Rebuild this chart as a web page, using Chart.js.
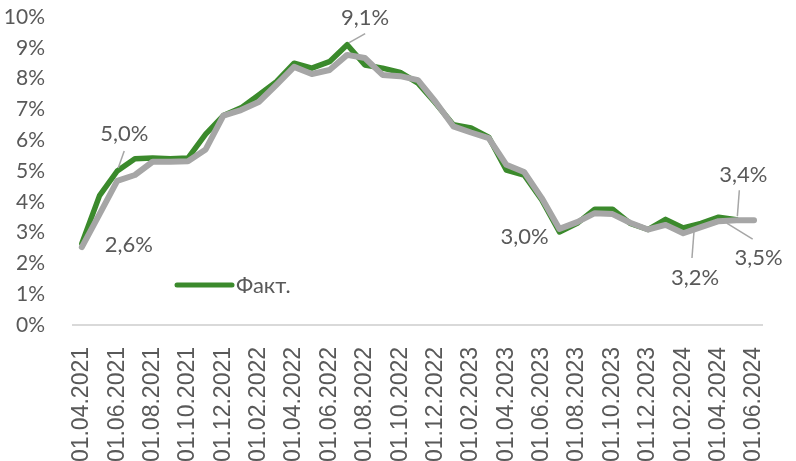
<!DOCTYPE html>
<html>
<head>
<meta charset="utf-8">
<script src="https://cdn.jsdelivr.net/npm/chart.js@4.4.1/dist/chart.umd.min.js"></script>
<style>
  html, body { margin: 0; padding: 0; background: #fff; }
  #wrap { width: 796px; height: 461px; position: relative; }
</style>
</head>
<body>
<div id="wrap"><canvas id="chart"></canvas></div>
<script>
// monthly dates, 01.04.2021 .. 01.06.2024
const months = [
  "01.04.2021", "01.05.2021", "01.06.2021", "01.07.2021", "01.08.2021", "01.09.2021",
  "01.10.2021", "01.11.2021", "01.12.2021", "01.01.2022", "01.02.2022", "01.03.2022",
  "01.04.2022", "01.05.2022", "01.06.2022", "01.07.2022", "01.08.2022", "01.09.2022",
  "01.10.2022", "01.11.2022", "01.12.2022", "01.01.2023", "01.02.2023", "01.03.2023",
  "01.04.2023", "01.05.2023", "01.06.2023", "01.07.2023", "01.08.2023", "01.09.2023",
  "01.10.2023", "01.11.2023", "01.12.2023", "01.01.2024", "01.02.2024", "01.03.2024",
  "01.04.2024", "01.05.2024", "01.06.2024"
];

// Факт. (green)
const fact = [
  2.65, 4.2, 5.0, 5.4, 5.42, 5.4, 5.42, 6.2, 6.8, 7.05, 7.47, 7.9,
  8.5, 8.34, 8.55, 9.1, 8.44, 8.34, 8.2, 7.85, 7.2, 6.5, 6.4, 6.1,
  5.03, 4.87, 4.06, 3.02, 3.3, 3.76, 3.76, 3.3, 3.1, 3.43, 3.15, 3.3,
  3.5, 3.42, null
];

// second series (grey)
const other = [
  2.53, 3.6, 4.68, 4.87, 5.3, 5.3, 5.32, 5.7, 6.8, 6.98, 7.24, 7.8,
  8.38, 8.15, 8.28, 8.77, 8.67, 8.12, 8.08, 7.95, 7.24, 6.45, 6.25, 6.07,
  5.2, 4.97, 4.12, 3.12, 3.34, 3.63, 3.6, 3.32, 3.1, 3.25, 2.98, 3.18,
  3.37, 3.4, 3.4
];

const yTicks = [0, 1, 2, 3, 4, 5, 6, 7, 8, 9, 10];

// value callouts: dataset, point index, text, text offset, leader offsets
const callouts = [
  { ds: 0, i: 0,  text: "2,6%", dx: 47,  dy: 2 },
  { ds: 0, i: 2,  text: "5,0%", dx: 7,   dy: -37, line: [7, -20, 1, -3] },
  { ds: 0, i: 15, text: "9,1%", dx: 18,  dy: -27, line: [18, -11, 2, -2] },
  { ds: 0, i: 27, text: "3,0%", dx: -35, dy: 5 },
  { ds: 1, i: 35, text: "3,2%", dx: -6,  dy: 51, line: [-7, 5, -9, 31] },
  { ds: 1, i: 37, text: "3,4%", dx: 7,   dy: -45, line: [3, -30, 1, -4] },
  { ds: 0, i: 36, text: "3,5%", dx: 40,  dy: 41, line: [8, 6, 34, 22] }
];

const GREEN = "#3b8a2c";
const GREY = "#a6a6a6";
const TEXT = "#595959";

const calloutPlugin = {
  id: "callouts",
  afterDatasetsDraw(chart) {
    const ctx = chart.ctx;
    ctx.save();
    callouts.forEach(c => {
      const pt = chart.getDatasetMeta(c.ds).data[c.i];
      if (!pt) return;
      if (c.line) {
        ctx.strokeStyle = GREY;
        ctx.lineWidth = 1.5;
        ctx.beginPath();
        ctx.moveTo(pt.x + c.line[0], pt.y + c.line[1]);
        ctx.lineTo(pt.x + c.line[2], pt.y + c.line[3]);
        ctx.stroke();
      }
      ctx.fillStyle = TEXT;
      ctx.font = "22px Lato";
      ctx.textAlign = "center";
      ctx.textBaseline = "middle";
      ctx.fillText(c.text, pt.x + c.dx, pt.y + c.dy);
    });

    // legend, inside the plot
    const a = chart.chartArea;
    const lx = a.left + 104, ly = a.bottom - 40;
    ctx.strokeStyle = GREEN;
    ctx.lineWidth = 5;
    ctx.lineCap = "round";
    ctx.beginPath();
    ctx.moveTo(lx, ly);
    ctx.lineTo(lx + 55, ly);
    ctx.stroke();
    ctx.fillStyle = TEXT;
    ctx.font = "22px Lato";
    ctx.textAlign = "left";
    ctx.textBaseline = "middle";
    ctx.fillText(chart.data.datasets[0].label, lx + 59, ly + 1);
    ctx.restore();
  }
};

new Chart(document.getElementById("chart"), {
  type: "line",
  data: {
    labels: months,
    datasets: [
      {
        label: "Факт.",
        data: fact,
        borderColor: GREEN,
        borderWidth: 5.5,
        pointRadius: 0,
        tension: 0,
        borderCapStyle: "round",
        borderJoinStyle: "round",
        order: 2
      },
      {
        label: "",
        data: other,
        borderColor: GREY,
        borderWidth: 6,
        pointRadius: 0,
        tension: 0,
        borderCapStyle: "round",
        borderJoinStyle: "round",
        order: 1
      }
    ]
  },
  options: {
    responsive: true,
    maintainAspectRatio: false,
    animation: false,
    layout: { padding: { top: 17, right: 29, bottom: 0, left: 0 } },
    plugins: {
      legend: { display: false },
      tooltip: { enabled: false }
    },
    scales: {
      x: {
        offset: true,
        grid: { display: false },
        border: { display: true, color: "#d9d9d9", width: 2 },
        ticks: {
          autoSkip: false,
          maxRotation: 90,
          minRotation: 90,
          padding: 14,
          color: TEXT,
          font: { family: "'Liberation Sans', Arial, sans-serif", size: 23 },
          callback: (v, i) => (i % 2 === 0 ? months[i] : "")
        },
        afterFit: s => { s.height = 136; }
      },
      y: {
        min: yTicks[0],
        max: yTicks[yTicks.length - 1],
        grid: { display: false },
        border: { display: false },
        afterBuildTicks: s => { s.ticks = yTicks.map(v => ({ value: v })); },
        ticks: {
          padding: 20,
          color: TEXT,
          font: { family: "Lato", size: 21 },
          callback: v => v + "%"
        },
        afterFit: s => { s.width = 73; s.paddingTop = 0; s.paddingBottom = 0; }
      }
    }
  },
  plugins: [calloutPlugin]
});
</script>
</body>
</html>
